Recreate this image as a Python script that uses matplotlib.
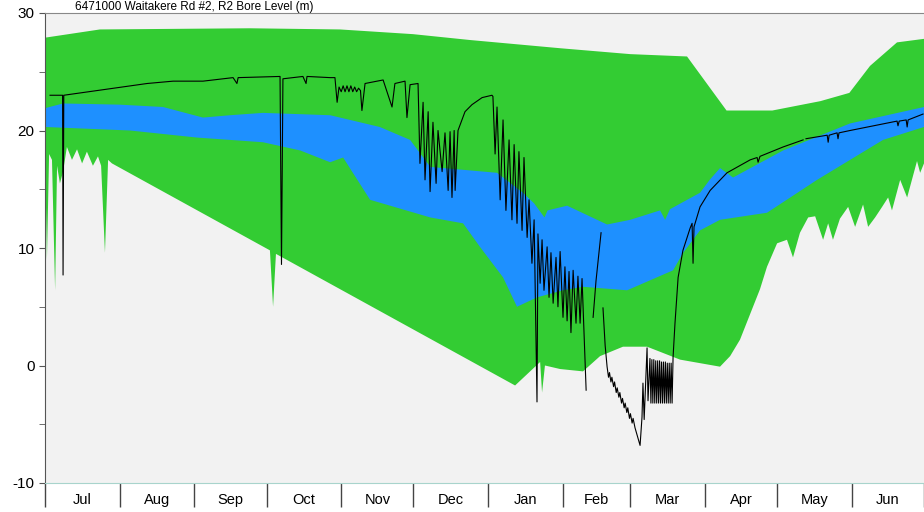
import numpy as np
import matplotlib
matplotlib.use('Agg')
import matplotlib.pyplot as plt

plt.rcParams['font.family'] = ['Liberation Sans', 'DejaVu Sans']
plt.rcParams['axes.unicode_minus'] = False

# days counted from 1 July
months = ['Jul', 'Aug', 'Sep', 'Oct', 'Nov', 'Dec', 'Jan', 'Feb', 'Mar', 'Apr', 'May', 'Jun']
month_start = [0, 31, 62, 92, 123, 153, 184, 215, 243, 274, 304, 335, 365]

# outer envelope (green) - max and min
max_day = [0, 22.8, 85, 122.5, 152.8, 176.5, 214, 243, 266.6, 283, 302, 322, 334, 342.6, 353.8, 365]
max_lvl = [27.9, 28.6, 28.7, 28.6, 28.2, 27.7, 27.0, 26.5, 26.3, 21.7, 21.7, 22.5, 23.2, 25.5, 27.5, 27.8]

min_day = [0, 0.8, 1.7, 2.9, 4.2, 5.0, 6.2, 7.5, 9.1, 11.2, 13.3, 15.4, 17.4, 19.9, 22.0, 23.3, 24.9,
           26.2, 27.8, 93.4, 94.7, 95.9, 195.2, 205.6, 206.4, 207.6, 213.9, 223.4, 230.5, 240.0, 250.0,
           263.7, 280.3, 284.5, 288.6, 296.9, 299.8, 304.0, 308.1, 310.6, 313.5, 316.9, 319.8, 323.1,
           325.2, 327.2, 330.1, 333.5, 336.4, 339.7, 341.8, 344.7, 347.6, 350.1, 351.7, 355.1, 358.0,
           362.1, 363.4, 365]
min_lvl = [18.3, 9.0, 18.0, 17.5, 6.4, 17.0, 15.5, 16.5, 18.6, 17.5, 18.4, 17.2, 18.2, 17.0, 17.8, 17.0, 9.6,
           17.5, 17.2, 9.8, 5.0, 9.5, -1.7, 0.3, -2.3, 0.0, -0.3, -0.5, 0.8, 1.6, 1.6,
           0.5, -0.1, 0.8, 2.2, 6.5, 8.4, 10.4, 10.7, 9.2, 11.3, 12.6, 12.7, 10.7,
           12.1, 10.7, 12.5, 13.5, 11.8, 13.7, 11.8, 12.6, 13.5, 14.3, 13.2, 15.8, 14.3,
           17.4, 16.4, 17.2]

# inner band (blue)
hi_day = [0, 7.5, 31, 49, 65.6, 76.8, 90.5, 118.4, 139, 151.6, 160, 187.7, 198.5, 203.1, 207.4, 208.7,
          216.8, 233.4, 243, 255.4, 257.5, 259.5, 272, 276, 280.3, 285.7, 306.5, 334.3, 365]
hi_lvl = [21.9, 22.3, 22.2, 22.0, 21.1, 21.3, 21.5, 21.3, 20.3, 19.2, 16.9, 16.4, 14.7, 13.8, 12.6, 13.2,
          13.6, 12.0, 12.4, 13.2, 12.4, 13.3, 14.7, 15.8, 16.8, 16.0, 18.3, 20.6, 22.0]

lo_day = [0, 35.3, 63.1, 90.5, 106, 118.4, 123.8, 135, 160, 173.6, 180.6, 190.2, 196, 204.3, 215.1,
          223.4, 241.7, 260.8, 265, 272, 280.3, 299.8, 320.6, 348, 365]
lo_lvl = [20.3, 20.0, 19.4, 19.0, 18.3, 17.3, 17.7, 14.1, 12.6, 12.1, 10.1, 7.5, 5.0, 5.8, 6.4,
          6.7, 6.4, 8.1, 9.6, 11.5, 12.4, 13.0, 15.8, 19.2, 20.3]

# observed bore level (black), nan = gap
obs_day = [2.1, 7.3, 7.5, 7.8, 21.6, 42.4, 53.2, 65.6, 78.1, 79.7, 80.2, 97.6, 98.2, 98.8, 107.1, 108.4,
           108.8, 118.4, 120.4, 121.3, 122.1, 123.0, 123.8, 124.6, 125.4, 126.2, 127.0, 127.8, 128.6,
           129.4, 130.2, 131.0, 131.6, 132.9, 140.4, 144.1, 145.3, 149.5, 150.3, 151.6, 154.9,
           155.7, 157.0, 157.8, 159.1, 159.9, 161.1, 162.4, 163.2, 164.9, 166.1, 167.4, 168.2, 169.0,
           169.9, 170.3, 171.5, 174.4, 177.3, 181.5, 185.6, 186.0, 186.9, 187.7, 189.0, 190.2, 191.4,
           192.7, 193.9, 194.8, 196.0, 196.8, 198.1, 198.9, 200.2, 201.0, 202.2, 203.1, 204.3, 204.7,
           205.6, 206.4, 207.2, 208.5, 209.3, 210.1, 211.0, 212.2, 213.0, 213.9, 215.1, 215.9, 216.8,
           217.6, 218.4, 219.3, 220.5, 221.3, 222.2, 223.0, 224.7, 226.0,
           227.6, 228.8, 230.9, 231.3,
           231.7, 232.6, 233.4, 234.0, 234.4, 235.0, 235.4, 236.1, 236.5, 237.2, 237.6, 238.3, 238.7,
           239.4, 239.8, 240.5, 240.9, 241.6, 242.0, 242.7, 243.1, 243.8, 244.2, 245.0, 247.1, 247.9,
           248.3, 248.8, 250.0, 250.4, 251.2, 251.6, 252.0, 252.4, 252.8, 253.2, 253.6, 254.0, 254.4,
           254.8, 255.2, 255.6, 256.0, 256.4, 256.8, 257.2, 257.6, 258.0, 258.4, 258.8, 259.2, 259.6,
           260.0, 260.4, 260.8, 261.6, 262.9, 264.9, 267.9, 268.7, 269.1, 269.5, 272.0, 276.2, 283.2,
           292.8, 295.7, 296.1, 296.9, 306.5, 314.8, 315.4, 316.0, 324.8, 325.2, 325.6, 328.9, 329.3,
           329.7, 334.3, 353.8, 354.2, 354.7, 357.6, 358.0, 358.4, 364.6]
obs_lvl = [23.0, 23.0, 7.7, 23.0, 23.4, 24.0, 24.2, 24.2, 24.5, 24.0, 24.5, 24.6, 8.6, 24.4, 24.6, 24.0,
           24.6, 24.5, 24.5, 22.4, 23.7, 23.3, 23.8, 23.3, 23.8, 23.3, 23.8, 23.3, 23.7,
           23.3, 23.6, 23.4, 21.7, 24.0, 24.3, 22.0, 24.0, 24.2, 21.1, 23.9, 24.0,
           17.2, 22.4, 15.8, 21.6, 14.8, 20.7, 15.5, 20.0, 16.5, 19.8, 14.9, 19.9, 14.3,
           20.0, 14.9, 20.0, 21.6, 22.2, 22.8, 23.0, 22.9, 18.0, 22.0, 14.1, 20.9, 13.2,
           19.2, 12.4, 18.8, 12.1, 18.2, 11.5, 17.7, 10.9, 14.1, 8.7, 12.4, -3.1, 11.2,
           7.0, 10.7, 6.4, 10.1, 5.8, 9.6, 5.3, 9.2, 5.0, 9.7, 4.1, 8.4, 3.8,
           8.0, 2.8, 8.1, 3.6, 7.6, 3.6, 7.4, -2.1, np.nan,
           4.1, 7.2, 11.3, np.nan,
           4.9, 1.7, -0.1, -1.0, -0.6, -1.4, -1.0, -1.8, -1.4, -2.3, -1.9, -2.7, -2.3,
           -3.2, -2.8, -3.6, -3.2, -4.0, -3.6, -4.5, -4.1, -4.9, -4.5, -5.3, -6.8, -4.4,
           -1.5, -4.6, 1.5, -3.0, 0.6, -3.2, 0.5, -3.2, 0.5, -3.2, 0.4, -3.2, 0.4,
           -3.2, 0.4, -3.2, 0.3, -3.2, 0.3, -3.2, 0.3, -3.2, 0.2, -3.2, 0.2, -3.2,
           0.2, -3.2, 0.7, 3.6, 7.5, 9.8, 11.7, 12.1, 8.7, 11.8, 13.5, 14.9, 16.4,
           17.5, 17.7, 17.3, 17.8, 18.6, 19.2, np.nan, 19.3, 19.6, 19.0, 19.6, 19.8, 19.3,
           19.8, 20.0, 20.8, 20.4, 20.8, 20.9, 20.3, 20.9, 21.4]

fig = plt.figure(figsize=(9.24, 5.12), dpi=100)
ax = fig.add_axes([45/924, 29/512, 879/924, 470/512])
ax.set_facecolor('#f2f2f2')

ax.fill(np.concatenate([max_day, min_day[::-1]]), np.concatenate([max_lvl, min_lvl[::-1]]),
        color='#33cc33', lw=0)
ax.fill(np.concatenate([hi_day, lo_day[::-1]]), np.concatenate([hi_lvl, lo_lvl[::-1]]),
        color='#1e90ff', lw=0)
ax.plot(obs_day, obs_lvl, color='black', lw=0.8)

ax.set_xlim(0, 365)
ax.set_ylim(-10, 30)

ax.set_yticks([-10, 0, 10, 20, 30])
ax.set_yticks([-5, 5, 15, 25], minor=True)
ax.tick_params(axis='y', which='both', direction='out', length=4, color='#555555', labelsize=11)

ax.set_xticks(month_start)
ax.set_xticklabels([])
mids = [(month_start[i] + month_start[i+1]) / 2 for i in range(12)]
ax.set_xticks(mids, minor=True)
ax.set_xticklabels(months, minor=True)
ax.tick_params(axis='x', which='major', direction='out', length=17, width=1, color='#444444')
ax.tick_params(axis='x', which='minor', length=0, pad=7, labelsize=10.5)

ax.spines['left'].set_color('#555555')
ax.spines['bottom'].set_color('#a8d4cc')
ax.spines['top'].set_color('#888888')
ax.spines['right'].set_visible(False)

fig.text(75/924, 1 - 1/512, '6471000 Waitakere Rd #2, R2 Bore Level (m)', fontsize=8.5, va='top')

fig.savefig('out.png', dpi=100)
